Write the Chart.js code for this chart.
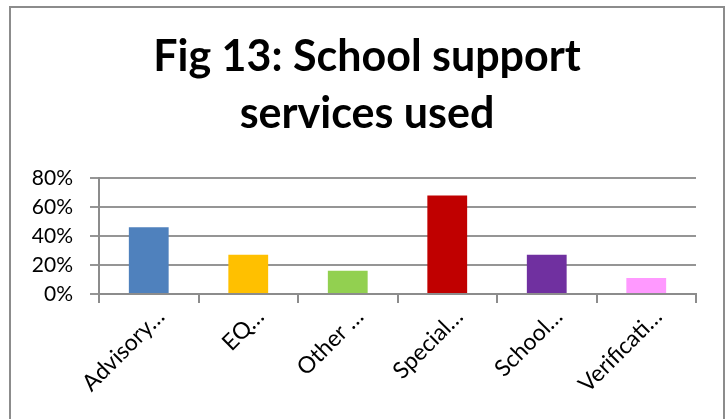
<!DOCTYPE html>
<html>
<head>
<meta charset="utf-8">
<title>Fig 13: School support services used</title>
<script src="https://cdn.jsdelivr.net/npm/chart.js@4/dist/chart.umd.min.js"></script>
<style>
  html, body { margin: 0; padding: 0; background: #ffffff; }
  #wrap { position: relative; width: 726px; height: 419px; overflow: hidden; }
  canvas { display: block; }
</style>
</head>
<body>
<div id="wrap"><canvas id="chart" width="726" height="419"></canvas></div>
<script>
// Services (labels shortened as shown on the axis)
const categories = ['Advisory…', 'EQ…', 'Other …', 'Special…', 'School…', 'Verificati…'];
// Share of schools using each service, in percent
const usage = [46, 27, 16, 68, 27, 11];
const barColors = ['#4F81BD', '#FFC000', '#92D050', '#C00000', '#7030A0', '#FF99FF'];
const yTicks = [0, 20, 40, 60, 80];

const FONT = 'Lato, "Open Sans", sans-serif';

// Grey frame around the whole chart; title centred on the frame
const framePlugin = {
  id: 'frame',
  afterLayout(chart) {
    const t = chart.titleBlock;
    if (t) { t.left = 8; t.right = 726; t.width = 718; }
  },
  beforeDraw(chart) {
    const ctx = chart.ctx;
    ctx.save();
    ctx.fillStyle = '#ffffff';
    ctx.fillRect(0, 0, chart.width, chart.height);
    ctx.strokeStyle = '#8c8c8c';
    ctx.lineWidth = 2;
    ctx.strokeRect(10, 7, 714, 440);
    ctx.restore();
  }
};

new Chart(document.getElementById('chart'), {
  type: 'bar',
  data: {
    labels: categories,
    datasets: [{
      data: usage,
      backgroundColor: barColors,
      borderWidth: 0,
      barPercentage: 0.4,
      categoryPercentage: 1.0
    }]
  },
  options: {
    responsive: false,
    animation: false,
    layout: { padding: { top: 0, right: 30, bottom: 0, left: 0 } },
    plugins: {
      legend: { display: false },
      tooltip: { enabled: false },
      title: {
        display: true,
        text: ['Fig 13: School support', 'services used'],
        color: '#000000',
        font: { family: FONT, size: 43, weight: 'bold', lineHeight: '57px' },
        padding: { top: 29, bottom: 35 }
      }
    },
    scales: {
      x: {
        afterFit(scale) { scale.height = 125; },
        border: { display: true, color: '#8c8c8c', width: 2 },
        grid: {
          offset: true,
          drawOnChartArea: false,
          drawTicks: true,
          tickLength: 9,
          color: '#8c8c8c',
          lineWidth: 2
        },
        ticks: {
          color: '#000000',
          font: { family: FONT, size: 23 },
          minRotation: 45,
          maxRotation: 45,
          autoSkip: false,
          padding: 0,
          labelOffset: 12
        }
      },
      y: {
        min: 0,
        max: 80,
        afterFit(scale) { scale.width = 99; },
        afterBuildTicks(scale) { scale.ticks = yTicks.map(v => ({ value: v })); },
        border: { display: true, color: '#8c8c8c', width: 2 },
        grid: {
          color: '#959595',
          lineWidth: 2,
          drawTicks: true,
          tickLength: 9
        },
        ticks: {
          color: '#000000',
          font: { family: FONT, size: 21 },
          padding: 17,
          callback: v => v + '%'
        }
      }
    }
  },
  plugins: [framePlugin]
});
</script>
</body>
</html>
